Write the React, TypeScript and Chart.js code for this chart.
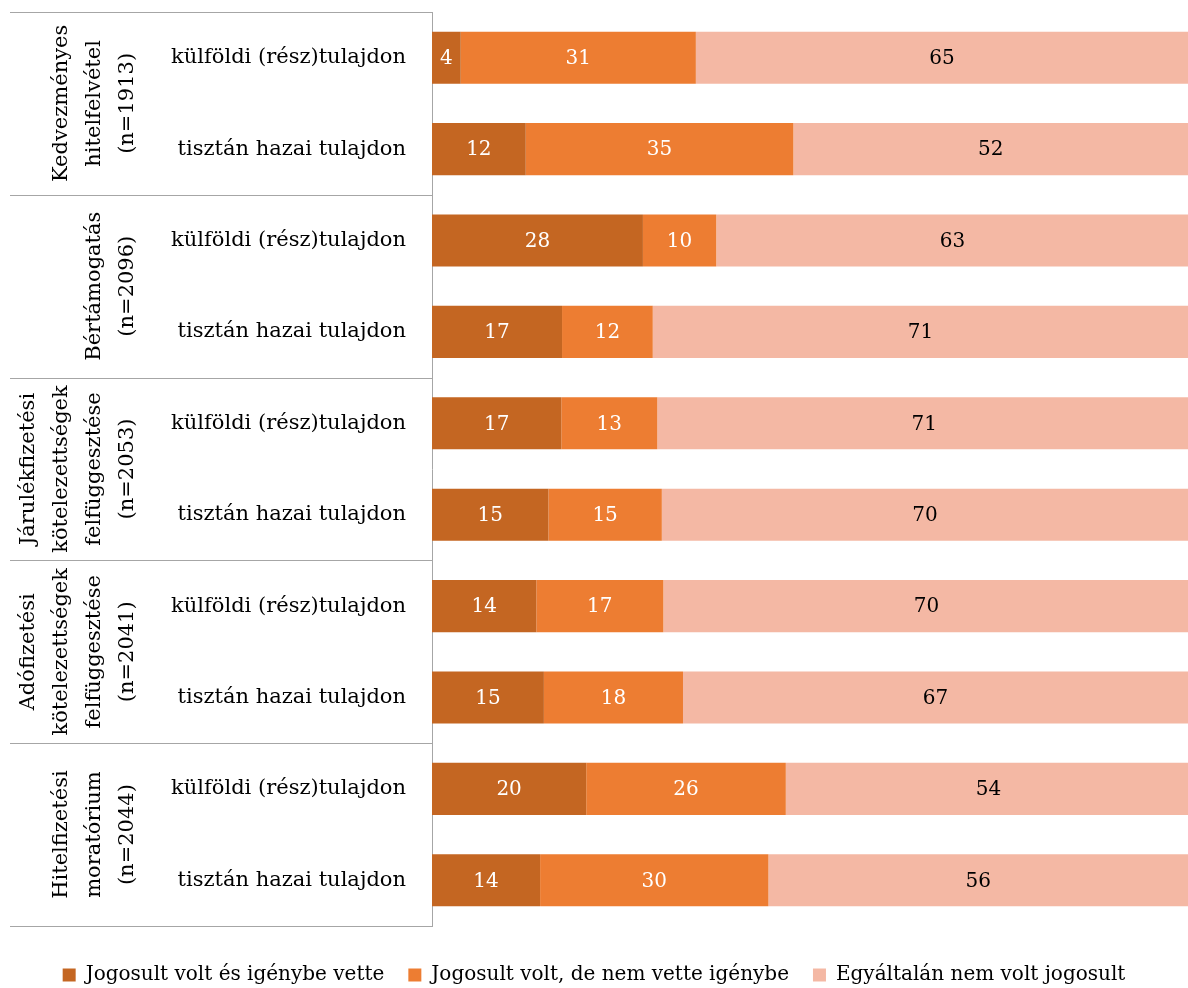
import React, { useEffect, useRef } from "react";
import { Chart, registerables } from "chart.js";

Chart.register(...registerables);

const categories = [
  "külföldi (rész)tulajdon",
  "tisztán hazai tulajdon",
  "külföldi (rész)tulajdon",
  "tisztán hazai tulajdon",
  "külföldi (rész)tulajdon",
  "tisztán hazai tulajdon",
  "külföldi (rész)tulajdon",
  "tisztán hazai tulajdon",
  "külföldi (rész)tulajdon",
  "tisztán hazai tulajdon",
];

const groupLabels = [
  ["Kedvezményes", "hitelfelvétel", "(n=1913)"],
  ["Bértámogatás", "(n=2096)"],
  ["Járulékfizetési", "kötelezettségek", "felfüggesztése", "(n=2053)"],
  ["Adófizetési", "kötelezettségek", "felfüggesztése", "(n=2041)"],
  ["Hitelfizetési", "moratórium", "(n=2044)"],
];

const seriesNames = [
  "Jogosult volt és igénybe vette",
  "Jogosult volt, de nem vette igénybe",
  "Egyáltalán nem volt jogosult",
];

const usedValues = [3.8, 12.4, 27.9, 17.2, 17.1, 15.4, 13.8, 14.8, 20.4, 14.3];
const notUsedValues = [31.1, 35.4, 9.7, 12.0, 12.7, 15.0, 16.8, 18.4, 26.4, 30.2];
const notEligibleValues = [65.1, 52.2, 62.5, 70.8, 70.6, 69.6, 69.6, 66.8, 53.6, 55.5];

const seriesColors = ["#C46622", "#ED7D32", "#F4B8A4"];
const labelColors = ["#FFFFFF", "#FFFFFF", "#000000"];

const FONT = "'DejaVu Serif', serif";

const tablePlugin = {
  id: "tablePlugin",
  afterDraw(chart: any) {
    const { ctx, chartArea } = chart;
    const yScale = chart.scales.y;
    const left = 10;
    const right = chartArea.left;
    const n = categories.length;
    const pitch = (chartArea.bottom - chartArea.top) / n;
    ctx.save();
    ctx.strokeStyle = "#A6A6A6";
    ctx.lineWidth = 1;
    for (let g = 0; g <= groupLabels.length; g++) {
      const y = Math.round(chartArea.top + g * 2 * pitch) + 0.5;
      ctx.beginPath();
      ctx.moveTo(left, y);
      ctx.lineTo(right, y);
      ctx.stroke();
    }
    ctx.fillStyle = "#000";
    ctx.font = `21px ${FONT}`;
    ctx.textAlign = "center";
    ctx.textBaseline = "middle";
    groupLabels.forEach((lines, g) => {
      const y0 = yScale.getPixelForValue(g * 2);
      const y1 = yScale.getPixelForValue(g * 2 + 1);
      const cy = (y0 + y1) / 2;
      lines.forEach((line, i) => {
        const x = 128 - (lines.length - 1 - i) * 33;
        ctx.save();
        ctx.translate(x, cy);
        ctx.rotate(-Math.PI / 2);
        ctx.fillText(line, 0, 0);
        ctx.restore();
      });
    });
    ctx.restore();
  },
};

const dataLabelPlugin = {
  id: "dataLabelPlugin",
  afterDatasetsDraw(chart: any) {
    const { ctx } = chart;
    ctx.save();
    ctx.font = `20px ${FONT}`;
    ctx.textAlign = "center";
    ctx.textBaseline = "middle";
    chart.data.datasets.forEach((ds: any, di: number) => {
      const meta = chart.getDatasetMeta(di);
      ctx.fillStyle = labelColors[di];
      meta.data.forEach((bar: any, i: number) => {
        const v = ds.data[i];
        const x = (bar.x + bar.base) / 2;
        ctx.fillText(String(Math.round(v)), x, bar.y + 1);
      });
    });
    ctx.restore();
  },
};

export default function App() {
  const canvasRef = useRef<HTMLCanvasElement | null>(null);

  useEffect(() => {
    if (!canvasRef.current) return;
    const values = [usedValues, notUsedValues, notEligibleValues];
    const chart = new Chart(canvasRef.current, {
      type: "bar",
      data: {
        labels: categories,
        datasets: seriesNames.map((name, i) => ({
          label: name,
          data: values[i],
          backgroundColor: seriesColors[i],
          borderWidth: 0,
          barPercentage: 0.57,
          categoryPercentage: 1,
        })),
      },
      options: {
        indexAxis: "y",
        animation: false,
        responsive: true,
        maintainAspectRatio: false,
        layout: { padding: { top: 12, right: 0, left: 0, bottom: -7 } },
        scales: {
          x: {
            stacked: true,
            min: 0,
            max: 100,
            display: true,
            grid: { display: false, drawTicks: false },
            border: { display: false },
            ticks: { display: false },
            afterFit(scale: any) {
              scale.height = 15;
              scale.paddingLeft = 0;
              scale.paddingRight = 0;
            },
          },
          y: {
            stacked: true,
            grid: { display: false, drawTicks: false },
            border: { display: true, color: "#A6A6A6", width: 1 },
            ticks: {
              color: "#000",
              padding: 26,
              font: { family: FONT, size: 21 },
            },
            afterFit(scale: any) {
              scale.width = 432;
              scale.paddingTop = 0;
              scale.paddingBottom = 0;
            },
          },
        },
        plugins: {
          legend: {
            position: "bottom",
            labels: {
              color: "#000",
              boxWidth: 13,
              boxHeight: 13,
              padding: 24,
              font: { family: FONT, size: 20 },
            },
          },
          tooltip: { enabled: false },
        },
      },
      plugins: [tablePlugin, dataLabelPlugin],
    });
    return () => chart.destroy();
  }, []);

  return (
    <div style={{ position: "fixed", left: 0, top: 0, width: 1188, height: 988, background: "#fff" }}>
      <canvas ref={canvasRef} />
    </div>
  );
}
